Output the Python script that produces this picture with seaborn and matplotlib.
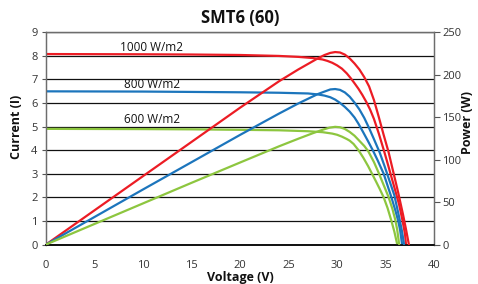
"""SMT6 (60) module: I-V and P-V curves at three irradiance levels."""

import matplotlib.pyplot as plt
import pandas as pd
import seaborn as sns

IRRADIANCE = ["1000 W/m2", "800 W/m2", "600 W/m2"]
COLORS = ["#ec1c24", "#1c75bc", "#8dc63f"]

# Current vs voltage (A)
IV_V_1000 = [0, 10, 15, 20, 24, 26, 27.5, 28.5, 29, 29.5, 30, 30.5, 31, 31.4,
             31.8, 32.2, 32.6, 33.0, 33.4, 33.8, 34.3, 34.8, 35.2, 35.6, 36.0,
             36.4, 36.7, 37.0, 37.1]
IV_I_1000 = [8.07, 8.06, 8.05, 8.03, 7.99, 7.95, 7.90, 7.84, 7.78, 7.70, 7.59,
             7.45, 7.25, 7.05, 6.83, 6.60, 6.34, 6.05, 5.72, 5.32, 4.70, 4.02,
             3.45, 2.86, 2.28, 1.68, 1.10, 0.45, 0.0]

IV_V_800 = [0, 10, 20, 24, 27, 28, 28.7, 29.3, 29.8, 30.3, 30.8, 31.3, 31.8,
            32.2, 32.7, 33.2, 33.7, 34.2, 34.8, 35.2, 35.6, 36.0, 36.3, 36.5,
            36.7]
IV_I_800 = [6.49, 6.48, 6.45, 6.43, 6.40, 6.36, 6.31, 6.24, 6.14, 6.00, 5.83,
            5.63, 5.38, 5.12, 4.75, 4.37, 3.98, 3.55, 3.00, 2.50, 2.00, 1.45,
            1.00, 0.60, 0.0]

IV_V_600 = [0, 10, 15, 20, 24, 27, 28.5, 29.5, 30, 30.5, 31, 31.3, 31.7, 32.2,
            32.7, 33.2, 33.6, 34.0, 34.4, 34.8, 35.2, 35.6, 35.9, 36.2]
IV_I_600 = [4.90, 4.89, 4.88, 4.86, 4.84, 4.80, 4.76, 4.70, 4.65, 4.57, 4.47,
            4.40, 4.26, 4.00, 3.68, 3.32, 3.00, 2.68, 2.35, 2.00, 1.55, 1.00,
            0.55, 0.0]

# Power vs voltage (W)
PV_V_1000 = [0, 10, 20, 24, 26, 27, 28, 28.7, 29.3, 29.8, 30.3, 30.8, 31.3,
             31.8, 32.3, 32.8, 33.3, 33.8, 34.3, 34.8, 35.3, 35.8, 36.3, 36.8,
             37.1, 37.4]
PV_P_1000 = [0, 80.5, 161, 192, 206, 212.5, 219, 223, 225.5, 226.5, 226, 223.5,
             219, 213, 206, 197, 186, 170, 150, 129, 109, 85, 61, 35, 18, 0]

PV_V_800 = [0, 10, 20, 24, 26, 27, 28, 28.7, 29.3, 29.8, 30.3, 30.8, 31.3,
            31.8, 32.3, 32.8, 33.3, 33.8, 34.4, 34.9, 35.4, 35.9, 36.4, 36.7,
            36.9]
PV_P_800 = [0, 64.8, 129, 154, 166, 171.5, 177, 180, 182.5, 183, 182, 179, 174,
            167, 159, 149, 137, 124, 108, 92, 75, 58, 32, 15, 0]

PV_V_600 = [0, 10, 15, 20, 24, 26, 27.5, 28.5, 29.2, 29.8, 30.3, 30.8, 31.3,
            31.8, 32.3, 32.8, 33.2, 33.8, 34.3, 34.8, 35.3, 35.7, 36.0, 36.2,
            36.4]
PV_P_600 = [0, 48.4, 72.6, 96.5, 115.5, 124.5, 131, 135, 137.5, 138.5, 138, 136,
            132.5, 128, 122, 116, 110, 97, 84, 70, 56, 42, 29, 17, 0]

X_TICKS = list(range(0, 41, 5))
I_TICKS = list(range(0, 10))
P_TICKS = list(range(0, 251, 50))

sns.set_theme(style="white")
plt.rcParams["font.family"] = ["Open Sans", "DejaVu Sans"]

iv = pd.concat([
    pd.DataFrame({"V": v, "I": i, "G": g})
    for v, i, g in zip([IV_V_1000, IV_V_800, IV_V_600],
                       [IV_I_1000, IV_I_800, IV_I_600], IRRADIANCE)
])
pv = pd.concat([
    pd.DataFrame({"V": v, "P": p, "G": g})
    for v, p, g in zip([PV_V_1000, PV_V_800, PV_V_600],
                       [PV_P_1000, PV_P_800, PV_P_600], IRRADIANCE)
])
palette = dict(zip(IRRADIANCE, COLORS))

fig = plt.figure(figsize=(4.78, 2.84), dpi=100)
ax = fig.add_axes([0.0962, 0.139, 0.812, 0.748])
ax2 = ax.twinx()

sns.lineplot(data=iv, x="V", y="I", hue="G", palette=palette, estimator=None,
             sort=False, lw=1.6, legend=False, ax=ax, zorder=3)
sns.lineplot(data=pv, x="V", y="P", hue="G", palette=palette, estimator=None,
             sort=False, lw=1.6, legend=False, ax=ax2, zorder=3)

ax.set_xlim(0, 40)
ax.set_ylim(0, 9)
ax2.set_ylim(0, 250)
ax.set_xticks(X_TICKS)
ax.set_yticks(I_TICKS)
ax2.set_yticks(P_TICKS)

ax.grid(axis="y", color="#111111", lw=0.9)
ax.set_axisbelow(True)

for a in (ax, ax2):
    for side in ("left", "right", "top"):
        a.spines[side].set_color("#6d6d6d")
        a.spines[side].set_linewidth(0.9)
    a.spines["bottom"].set_color("#111111")

ax.tick_params(axis="y", which="major", left=True, length=3, width=0.8,
               color="#555555", labelsize=8, labelcolor="#333333", pad=3)
ax.tick_params(axis="x", bottom=False, labelsize=8, labelcolor="#333333",
               pad=5.5)
ax2.tick_params(axis="y", right=True, length=4, width=0.8, color="#555555",
                labelsize=8, labelcolor="#333333", pad=2)

label_font = dict(fontsize=9, fontweight="bold", color="#111111")
ax.set_xlabel("Voltage (V)", **label_font)
ax.set_ylabel("Current (I)", **label_font)
ax2.set_ylabel("Power (W)", **label_font)
ax.xaxis.set_label_coords(0.5, -0.125)
ax.yaxis.set_label_coords(-0.06, 0.553)
ax2.yaxis.set_label_coords(1.07, 0.576)

ax.text(0.5, 1.066, "SMT6 (60)", transform=ax.transAxes, ha="center",
        va="center", fontsize=12, fontweight="bold", color="#111111")

label_y = [8.33, 6.76, 5.28]
for name, y in zip(IRRADIANCE, label_y):
    ax.text(10.9, y, name, ha="center", va="center", fontsize=8.5,
            color="#111111", zorder=4)

fig.savefig("out.png", dpi=100)
plt.close(fig)
